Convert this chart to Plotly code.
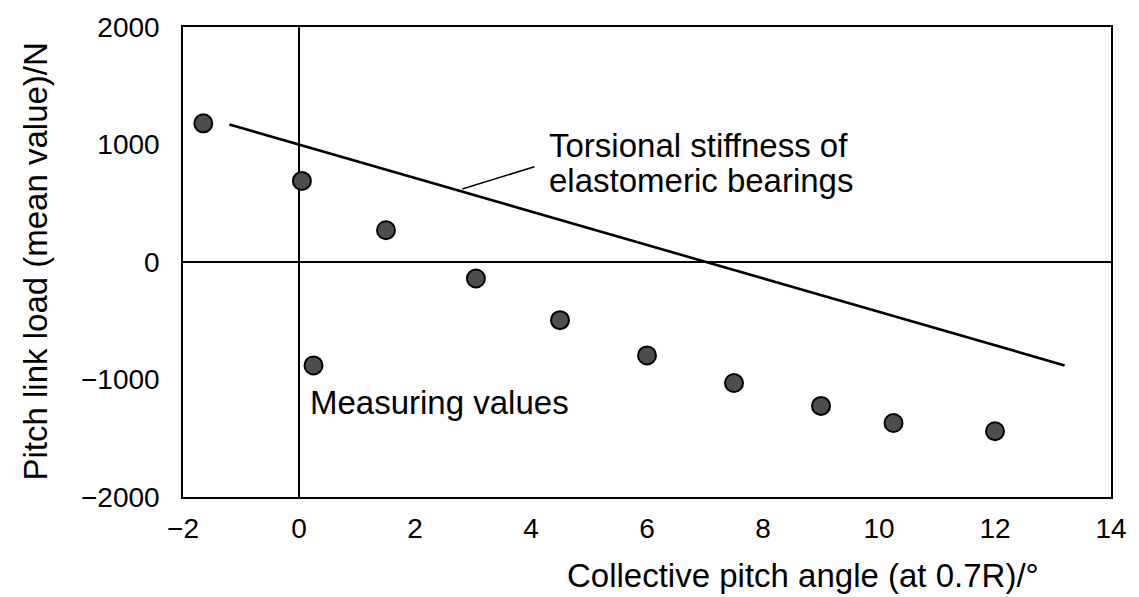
import plotly.graph_objects as go

# Measured values
pitch_angle = [-1.65, 0.05, 0.25, 1.5, 3.05, 4.5, 6.0, 7.5, 9.0, 10.25, 12.0]
link_load = [1180, 690, -880, 270, -140, -495, -795, -1030, -1225, -1370, -1440]

# Torsional stiffness of elastomeric bearings (straight line)
stiff_x = [-1.2, 13.2]
stiff_y = [1170, -880]

x_ticks = [-2, 0, 2, 4, 6, 8, 10, 12, 14]
x_ticktext = ["\u22122", "0", "2", "4", "6", "8", "10", "12", "14"]
y_ticks = [-2000, -1000, 0, 1000, 2000]
y_ticktext = ["\u22122000", "\u22121000", "0", "1000", "2000"]

FONT = "Liberation Sans, Arial, sans-serif"
FS_TICK = 28
FS_TEXT = 33

fig = go.Figure()
fig.add_trace(go.Scatter(
    x=stiff_x, y=stiff_y, mode="lines",
    line=dict(color="black", width=2.6), showlegend=False, hoverinfo="skip"))
fig.add_trace(go.Scatter(
    x=pitch_angle, y=link_load, mode="markers",
    marker=dict(size=18, color="#4d4d4d", line=dict(color="black", width=2)),
    showlegend=False))

# leader line for annotation
fig.add_shape(type="line", x0=2.815, y0=622, x1=4.06, y1=811,
              xref="x", yref="y", line=dict(color="black", width=1.5))

fig.add_annotation(x=4.28, y=989, xref="x", yref="y",
                   text="Torsional stiffness of",
                   showarrow=False, xanchor="left", yanchor="middle", align="left",
                   font=dict(family=FONT, size=FS_TEXT, color="black"))
fig.add_annotation(x=4.28, y=693, xref="x", yref="y",
                   text="elastomeric bearings",
                   showarrow=False, xanchor="left", yanchor="middle", align="left",
                   font=dict(family=FONT, size=FS_TEXT, color="black"))
fig.add_annotation(x=0.15, y=-1197, xref="x", yref="y",
                   text="Measuring values",
                   showarrow=False, xanchor="left", yanchor="middle", align="left",
                   font=dict(family=FONT, size=FS_TEXT, color="black"))

# axis titles
fig.add_annotation(x=-0.160, y=0.5, xref="paper", yref="paper",
                   text="Pitch link load (mean value)/N", textangle=-90,
                   showarrow=False, xanchor="center", yanchor="middle",
                   font=dict(family=FONT, size=FS_TEXT, color="black"))
fig.add_annotation(x=0.668, y=-0.168, xref="paper", yref="paper",
                   text="Collective pitch angle (at 0.7R)/°",
                   showarrow=False, xanchor="center", yanchor="middle",
                   font=dict(family=FONT, size=FS_TEXT, color="black"))

fig.update_xaxes(range=[-2, 14], tickvals=x_ticks, ticktext=x_ticktext,
                 showgrid=False, zeroline=True, zerolinecolor="black", zerolinewidth=1.5,
                 showline=True, mirror=True, linecolor="black", linewidth=1.5,
                 ticks="", ticklabelstandoff=6, ticklabeloverflow="allow",
                 tickfont=dict(family=FONT, size=FS_TICK, color="black"))
fig.update_yaxes(range=[-2000, 2000], tickvals=y_ticks, ticktext=y_ticktext,
                 showgrid=False, zeroline=True, zerolinecolor="black", zerolinewidth=1.5,
                 showline=True, mirror=True, linecolor="black", linewidth=1.5,
                 ticks="", ticklabelstandoff=16,
                 tickfont=dict(family=FONT, size=FS_TICK, color="black"))

fig.update_layout(
    width=1139, height=597,
    margin=dict(l=183, r=14, t=25, b=100),
    paper_bgcolor="white", plot_bgcolor="white",
    showlegend=False,
)

fig.write_html("out.html")
